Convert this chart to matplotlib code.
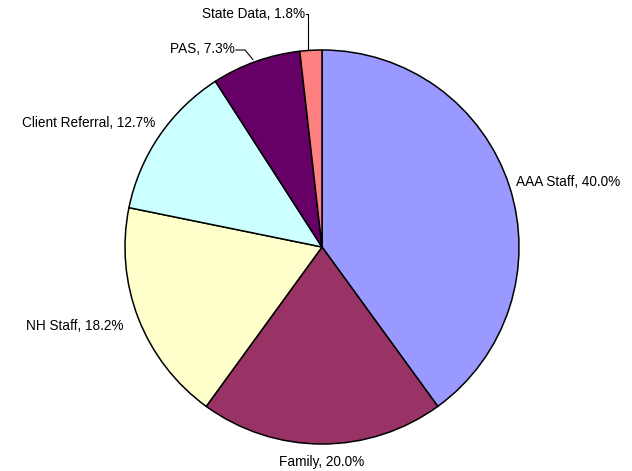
import numpy as np
import matplotlib
matplotlib.use("Agg")
import matplotlib.pyplot as plt

categories = ["AAA Staff", "Family", "NH Staff", "Client Referral", "PAS", "State Data"]
values = [40.0, 20.0, 18.2, 12.7, 7.3, 1.8]
colors = ["#9999FF", "#993366", "#FFFFCC", "#CCFFFF", "#660066", "#FF8080"]

W, H = 632, 471
fig = plt.figure(figsize=(W / 100, H / 100), dpi=100)
ax = fig.add_axes([0, 0, 1, 1])

cx, cy, r = 322, H - 247, 197
wedges, _ = ax.pie(values, colors=colors, startangle=90, counterclock=False,
                   center=(cx, cy), radius=r, frame=True,
                   wedgeprops=dict(edgecolor="black", linewidth=1.1))
ax.set_xlim(0, W)
ax.set_ylim(0, H)
ax.set_aspect("equal")
ax.axis("off")

font = dict(family=["Liberation Sans", "DejaVu Sans"], fontsize=9.8, color="black")

# label positions (screen px: x, y, ha)
label_pos = [
    (516, 182, "left"),
    (322, 462, "center"),
    (124, 326, "right"),
    (155, 123, "right"),
    (235, 49, "right"),
    (305, 14, "right"),
]
for (name, v, (x, ys, ha)) in zip(categories, values, label_pos):
    ax.text(x, H - ys, f"{name}, {v:.1f}%", ha=ha, va="center", **font)

def edge_point(w):
    mid = np.deg2rad((w.theta1 + w.theta2) / 2)
    return cx + r * np.cos(mid), cy + r * np.sin(mid)

# leader lines for PAS and State Data
ex, ey = edge_point(wedges[4])
ax.plot([236, 245, ex - 3], [H - 50, H - 50, ey + 2], color="black", lw=0.8)
ex, ey = edge_point(wedges[5])
ax.plot([306, ex - 3, ex - 3], [H - 14, H - 14, ey + 1], color="black", lw=0.8)

fig.savefig("out.png", dpi=100, facecolor="white")
